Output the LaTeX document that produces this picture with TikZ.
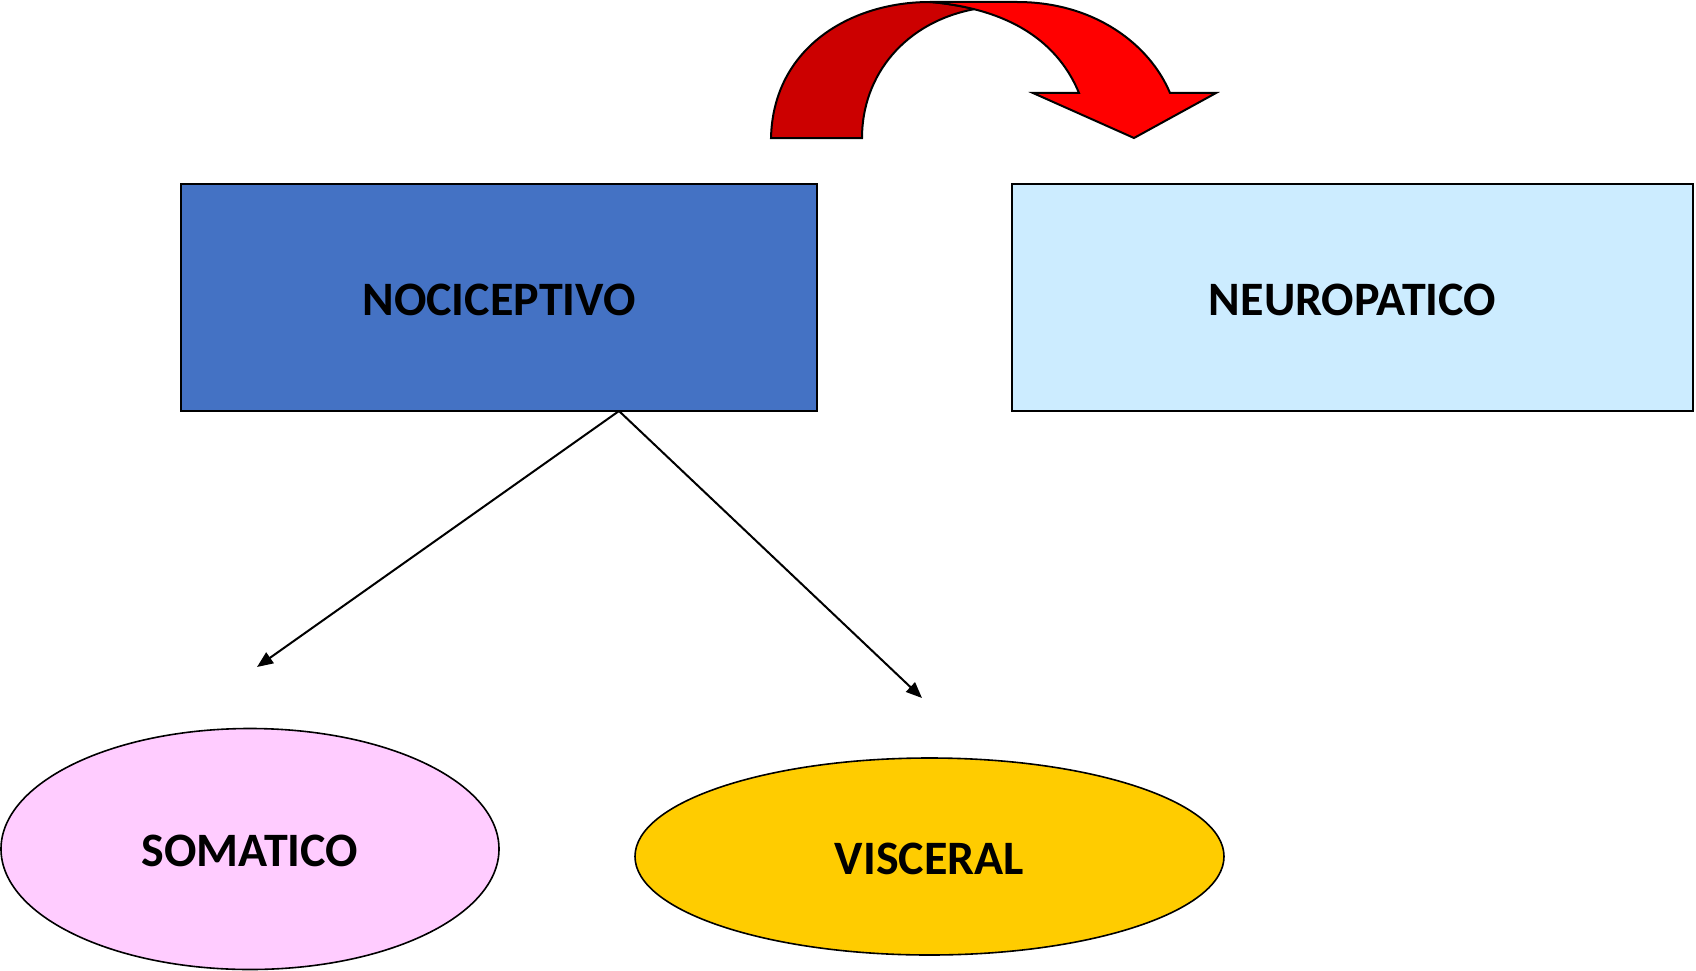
\documentclass[tikz,border=0pt]{standalone}
\usepackage{fontspec}
\setmainfont{Carlito}
\usetikzlibrary{shapes.geometric,arrows.meta}
\definecolor{nociblue}{HTML}{4472C4}
\definecolor{neurolight}{HTML}{CCECFF}
\definecolor{somapink}{HTML}{FFCCFF}
\definecolor{viscyellow}{HTML}{FFCC00}
\definecolor{darkred}{HTML}{CC0000}
\definecolor{brightred}{HTML}{FF0000}
\tikzset{
  boxnode/.style={draw=black, line width=2pt, rectangle, minimum height=227pt, inner sep=0pt},
  ellnode/.style={draw=black, line width=1.6pt, ellipse, inner sep=0pt},
  lbl/.style={font=\bfseries\fontsize{48}{56}\selectfont, text=black, yshift=-2pt},
  conn/.style={line width=2pt, -{Triangle[length=16pt,width=13pt]}},
  bandout/.style={draw=black, line width=2pt, line join=miter}
}
\begin{document}
\begin{tikzpicture}[x=1pt,y=-1pt]
\useasboundingbox (0,0) rectangle (1696,971);
% boxes
\node[boxnode, fill=nociblue, minimum width=636pt] (noci) at (499,297.5) {};
\node[lbl] (nocilbl) at (noci.center) {NOCICEPTIVO};
\node[boxnode, fill=neurolight, minimum width=681pt] (neuro) at (1352.5,297.5) {};
\node[lbl] (neurolbl) at (neuro.center) {NEUROPATICO};
% ellipses
\node[ellnode, fill=somapink, minimum width=498pt, minimum height=241pt] (soma) at (250,849) {};
\node[lbl] (somalbl) at (soma.center) {SOMATICO};
\node[ellnode, fill=viscyellow, minimum width=589pt, minimum height=197pt] (visc) at (929.5,856.5) {};
\node[lbl] (visclbl) at (visc.center) {VISCERAL};
% connectors
\coordinate (fork) at (619,411);
\coordinate (somaend) at (257,667);
\coordinate (viscend) at (922,698);
\draw[conn] (fork) -- (somaend);
\draw[conn] (fork) -- (viscend);
% curved arrow: back band
\filldraw[bandout, fill=darkred]
  (771,138) .. controls (773,48) and (850,2) .. (930,2)
  .. controls (945,3) and (960,6) .. (975,9)
  .. controls (905,22) and (862,75) .. (862,138) -- cycle;
% curved arrow: front band with head
\filldraw[bandout, fill=brightred]
  (930,2) -- (1017,2)
  .. controls (1095,2) and (1150,45) .. (1170,93)
  -- (1216,93) -- (1134,138) -- (1033,93) -- (1079,93)
  .. controls (1055,35) and (1000,8) .. (930,2) -- cycle;
\end{tikzpicture}
\end{document}
